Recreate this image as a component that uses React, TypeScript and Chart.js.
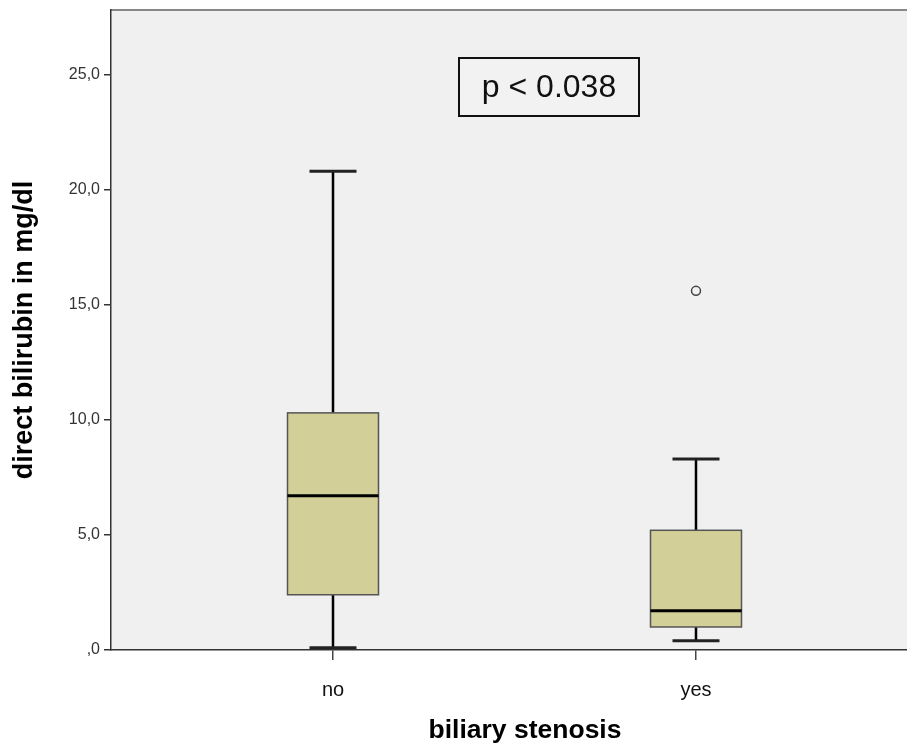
import { useEffect, useRef } from "react";
import { Chart, registerables } from "chart.js";
Chart.register(...registerables);

const categories = ["no", "yes"];
const whiskerLow = [0.1, 0.4];
const q1 = [2.4, 1.0];
const median = [6.7, 1.7];
const q3 = [10.3, 5.2];
const whiskerHigh = [20.8, 8.3];
const outlierCategory = [1];
const outlierValue = [15.6];
const yTicks = [0, 5, 10, 15, 20, 25];
const pText = "p < 0.038";
const xTitle = "biliary stenosis";
const yTitle = "direct bilirubin in mg/dl";

const FONT = "'Liberation Sans', Arial, Helvetica, sans-serif";

const boxPlugin = {
  id: "boxPlugin",
  beforeDraw(chart: any) {
    const { ctx, chartArea } = chart;
    ctx.save();
    ctx.fillStyle = "#f0f0f0";
    ctx.fillRect(chartArea.left, chartArea.top, chartArea.right - chartArea.left, chartArea.bottom - chartArea.top);
    ctx.strokeStyle = "#888888";
    ctx.lineWidth = 2;
    ctx.beginPath();
    ctx.moveTo(chartArea.left, chartArea.top);
    ctx.lineTo(chartArea.right, chartArea.top);
    ctx.stroke();
    ctx.restore();
  },
  beforeDatasetsDraw(chart: any) {
    const { ctx } = chart;
    const xs = chart.scales.x;
    const ys = chart.scales.y;
    ctx.save();
    categories.forEach((_, i) => {
      const cx = xs.getPixelForValue(i);
      const half = 45.5;
      const cap = 23.5;
      const yq1 = ys.getPixelForValue(q1[i]);
      const yq3 = ys.getPixelForValue(q3[i]);
      const ym = ys.getPixelForValue(median[i]);
      const ylo = ys.getPixelForValue(whiskerLow[i]);
      const yhi = ys.getPixelForValue(whiskerHigh[i]);
      ctx.strokeStyle = "#000";
      ctx.lineWidth = 2.5;
      ctx.beginPath();
      ctx.moveTo(cx, yq3);
      ctx.lineTo(cx, yhi);
      ctx.moveTo(cx, yq1);
      ctx.lineTo(cx, ylo);
      ctx.stroke();
      ctx.strokeStyle = "#222";
      ctx.lineWidth = 3;
      ctx.beginPath();
      ctx.moveTo(cx - cap, yhi);
      ctx.lineTo(cx + cap, yhi);
      ctx.moveTo(cx - cap, ylo);
      ctx.lineTo(cx + cap, ylo);
      ctx.stroke();
      ctx.fillStyle = "#d3cf98";
      ctx.fillRect(cx - half, yq3, half * 2, yq1 - yq3);
      ctx.strokeStyle = "#555";
      ctx.lineWidth = 1.5;
      ctx.strokeRect(cx - half, yq3, half * 2, yq1 - yq3);
      ctx.strokeStyle = "#000";
      ctx.lineWidth = 3;
      ctx.beginPath();
      ctx.moveTo(cx - half, ym);
      ctx.lineTo(cx + half, ym);
      ctx.stroke();
    });
    ctx.restore();
  },
  afterDraw(chart: any) {
    const { ctx, chartArea } = chart;
    ctx.save();
    ctx.fillStyle = "#f2f2f2";
    ctx.fillRect(459, 58, 180, 58);
    ctx.strokeStyle = "#111";
    ctx.lineWidth = 2;
    ctx.strokeRect(459, 58, 180, 58);
    ctx.fillStyle = "#111";
    ctx.font = `32px ${FONT}`;
    ctx.textAlign = "center";
    ctx.textBaseline = "middle";
    ctx.fillText(pText, 549, 88);
    ctx.textBaseline = "alphabetic";
    ctx.font = `bold 26.5px ${FONT}`;
    ctx.fillStyle = "#000";
    ctx.fillText(xTitle, 525, 738);
    ctx.font = `bold 27px ${FONT}`;
    ctx.translate(32, (chartArea.top + chartArea.bottom) / 2);
    ctx.rotate(-Math.PI / 2);
    ctx.fillText(yTitle, 0, 0);
    ctx.restore();
  },
};

export default function App() {
  const ref = useRef<HTMLCanvasElement>(null);
  useEffect(() => {
    document.body.style.margin = "0";
    const chart = new Chart(ref.current!, {
      type: "scatter",
      data: {
        datasets: [
          {
            data: outlierCategory.map((c, i) => ({ x: c, y: outlierValue[i] })),
            pointRadius: 4.5,
            pointBorderWidth: 1.5,
            pointBorderColor: "#444",
            pointBackgroundColor: "#f0f0f0",
          },
        ],
      },
      options: {
        animation: false,
        responsive: false,
        maintainAspectRatio: false,
        layout: { autoPadding: false, padding: { top: 10, right: 0, left: 0, bottom: 0 } },
        plugins: { legend: { display: false }, tooltip: { enabled: false } },
        scales: {
          x: {
            type: "linear",
            min: -0.6116,
            max: 1.5813,
            afterBuildTicks: (s: any) => {
              s.ticks = categories.map((_, i) => ({ value: i }));
            },
            afterFit: (s: any) => {
              s.height = 99;
              s.paddingLeft = 0;
              s.paddingRight = 0;
            },
            ticks: {
              callback: (v: any) => categories[v] ?? "",
              color: "#111",
              font: { family: FONT, size: 20 },
              padding: 18,
              maxRotation: 0,
            },
            grid: { drawOnChartArea: false, drawTicks: true, tickLength: 10, color: "#444", lineWidth: 1.5 },
            border: { display: true, color: "#333", width: 1.5 },
          },
          y: {
            min: 0,
            max: 27.8,
            afterBuildTicks: (s: any) => {
              s.ticks = yTicks.map((v) => ({ value: v }));
            },
            afterFit: (s: any) => {
              s.width = 111;
              s.paddingTop = 0;
              s.paddingBottom = 0;
            },
            ticks: {
              callback: (v: any) => (v === 0 ? ",0" : Number(v).toFixed(1).replace(".", ",")),
              color: "#333",
              font: { family: FONT, size: 16 },
              padding: 4,
            },
            grid: { drawOnChartArea: false, drawTicks: true, tickLength: 7, color: "#333", lineWidth: 1.5 },
            border: { display: true, color: "#333", width: 1.5 },
          },
        },
      },
      plugins: [boxPlugin],
    });
    return () => chart.destroy();
  }, []);
  return <canvas ref={ref} width={907} height={749} style={{ display: "block" }} />;
}
